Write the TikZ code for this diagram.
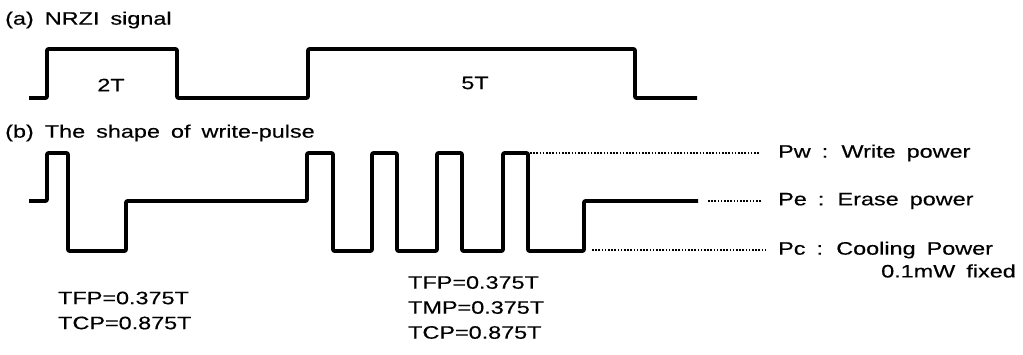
\documentclass[tikz,border=0pt]{standalone}
\usepackage{fontspec}
\setmainfont{Liberation Sans}[FakeStretch=1.3,WordSpace=1.7,FakeBold=0.4]
\begin{document}
\begin{tikzpicture}[x=1pt,y=-1pt,
  wave/.style={line width=3.6pt,line join=round,rounded corners=1pt},
  dotline/.style={line width=1.3pt,dash pattern=on 1.6pt off 1.6pt},
  lbl/.style={inner sep=0pt,font=\fontsize{18}{25}\selectfont},
]
\useasboundingbox (0,0) rectangle (1023,354);
% titles
\node[lbl,anchor=west] (ta) at (5,20) {(a) NRZI signal};
\node[lbl,anchor=west] (tb) at (5,133) {(b) The shape of write-pulse};
% NRZI signal
\draw[wave] (29,98) -- (47,98) -- (47,49) -- (177,49) -- (177,98) -- (308,98)
  -- (308,49) -- (635,49) -- (635,98) -- (697,98);
\node[lbl] (t2) at (111,85) {2T};
\node[lbl] (t5) at (475,83) {5T};
% write pulse
\draw[wave] (29,201) -- (47,201) -- (47,153) -- (68,153) -- (68,251) -- (126,251)
  -- (126,201) -- (307,201) -- (307,153) -- (333,153) -- (333,251) -- (372,251)
  -- (372,153) -- (397,153) -- (397,251) -- (437,251) -- (437,153) -- (462,153)
  -- (462,251) -- (503,251) -- (503,153) -- (528,153) -- (528,251) -- (584,251)
  -- (584,201) -- (698,201);
% labels
\node[lbl,anchor=west] (pw) at (778,153) {Pw : Write power};
\node[lbl,anchor=west] (pe) at (778,201) {Pe : Erase power};
\node[lbl,anchor=west] (pc) at (778,250) {Pc : Cooling Power};
\node[lbl,anchor=east] (fx) at (1016,271) {0.1mW fixed};
\coordinate (wstart) at (530,153);
\coordinate (estart) at (708,201);
\coordinate (cstart) at (592,250);
\draw[dotline,shorten >=18pt] (wstart) -- (pw.west);
\draw[dotline,shorten >=16pt] (estart) -- (pe.west);
\draw[dotline,shorten >=13pt] (cstart) -- (pc.west);
% timing
\node[lbl,anchor=west,align=left] (tl) at (58,310.5) {TFP=0.375T\\TCP=0.875T};
\node[lbl,anchor=west,align=left] (tr) at (408,307.5) {TFP=0.375T\\TMP=0.375T\\TCP=0.875T};
\end{tikzpicture}
\end{document}
